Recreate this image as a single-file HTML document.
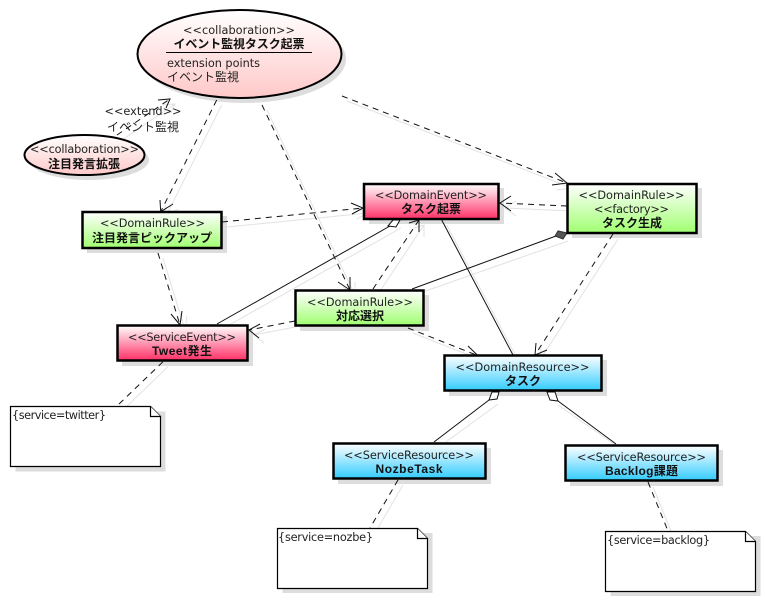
<!DOCTYPE html>
<html><head><meta charset="utf-8"><style>
html,body{margin:0;padding:0;background:#fff}
svg{display:block}
text{font-family:"DejaVu Sans","Noto Sans CJK JP",sans-serif;font-size:11.3px;fill:#222;text-anchor:middle}
.j{font-size:12px}
.b{font-family:"Liberation Sans","Noto Sans CJK JP",sans-serif;font-size:12px;font-weight:bold;fill:#111}
.l{text-anchor:start}
.box{stroke:#000;stroke-width:2.5}
.note{fill:#fff;stroke:#000;stroke-width:1.2}
.sh{fill:#ddd;stroke:none}
.d{stroke-dasharray:6 5}
</style></head><body>
<svg width="765" height="601" viewBox="0 0 765 601" xmlns="http://www.w3.org/2000/svg">
<defs>
<linearGradient id="g" x1="0" y1="0" x2="0" y2="1"><stop offset="0" stop-color="#fff"/><stop offset="1" stop-color="#a0ff70"/></linearGradient>
<linearGradient id="r" x1="0" y1="0" x2="0" y2="1"><stop offset="0" stop-color="#fff"/><stop offset="1" stop-color="#ff2f66"/></linearGradient>
<linearGradient id="c" x1="0" y1="0" x2="0" y2="1"><stop offset="0" stop-color="#fff"/><stop offset="1" stop-color="#33ccff"/></linearGradient>
<linearGradient id="p" x1="0" y1="0" x2="0" y2="1"><stop offset="0" stop-color="#fff"/><stop offset="1" stop-color="#ffc8c8"/></linearGradient>
</defs>

<!-- connector shadows -->
<g fill="none" stroke="#e2e2e2" stroke-width="1" transform="translate(5,5)">
<path d="M216.7 100L160.7 211.7M160 200L160.7 211.7L173 204"/>
<path d="M262 105L350 290M338 282L350 290L350 277"/>
<path d="M342 96L567 183M555 173L567 183L552 185"/>
<path d="M222 222L363 208M351 203L363 208L352 214"/>
<path d="M158 253L180 325M171 314L180 325L182 311"/>
<path d="M567 206L500 203M511 196L500 203L511 211"/>
<path d="M373 289L419 220M409 223L419 220L419 232"/>
<path d="M217 324L396 223"/>
<path d="M412 289L563 236"/>
<path d="M441.7 220L513 355"/>
<path d="M295 321L249 330M260 324L249 330L259 338"/>
<path d="M408 328L478 355.7M468 346L478 355.7L463 355"/>
<path d="M613 234L535 355M536 343L535 355L547 350"/>
<path d="M163 361.700L117 406"/>
<path d="M398 480L370 528"/>
<path d="M648 482L668 531"/>
<path d="M434 442L493 399"/>
<path d="M616 444L553 400"/>
<path d="M117 135L170 99M158 100L170 99L166 108"/>
</g>

<!-- shape shadows -->
<ellipse class="sh" cx="244" cy="59" rx="102" ry="44"/>
<ellipse class="sh" cx="89" cy="160" rx="60" ry="20"/>
<rect class="sh" x="87" y="216" width="140" height="37"/>
<rect class="sh" x="369" y="188" width="135" height="36"/>
<rect class="sh" x="572" y="188" width="130" height="50"/>
<rect class="sh" x="300" y="295" width="129" height="36"/>
<rect class="sh" x="122" y="330" width="131" height="36"/>
<rect class="sh" x="449" y="360" width="158" height="36"/>
<rect class="sh" x="338" y="448" width="153" height="36"/>
<rect class="sh" x="570" y="450" width="153" height="36"/>
<rect class="sh" x="15.500" y="411.500" width="150" height="60"/>
<rect class="sh" x="282.500" y="533" width="150" height="60"/>
<rect class="sh" x="610.500" y="536" width="150" height="60"/>

<!-- connectors -->
<g fill="none" stroke="#111" stroke-width="1">
<path class="d" d="M216.7 100L160.7 211.7"/><path d="M160 200L160.7 211.700L173 204"/>
<path class="d" d="M262 105L350 290"/><path d="M338 282L350 290L350 277"/>
<path class="d" d="M342 96L567 183"/><path d="M555 173L567 183L552 185"/>
<path class="d" d="M222 222L363 208"/><path d="M351 203L363 208L352 214"/>
<path class="d" d="M158 253L180 325"/><path d="M171 314L180 325L182 311"/>
<path class="d" d="M567 206L500 203"/><path d="M511 196L500 203L511 211"/>
<path class="d" d="M373 289L419 220"/><path d="M409 223L419 220L419 232"/>
<path d="M217 324L390 226"/>
<path d="M412 289L556 236"/>
<path d="M441.7 220L513 355"/>
<path class="d" d="M295 321L249 330"/><path d="M260 324L249 330L259 338"/>
<path class="d" d="M408 328L478 355.7"/><path d="M468 346L478 355.7L463 355"/>
<path class="d" d="M613 234L535 355"/><path d="M536 343L535 355L547 350"/>
<path class="d" d="M163 361.700L117 406"/>
<path class="d" d="M398 480L370 528"/>
<path class="d" d="M648 482L668 531"/>
<path d="M434 442L489 400"/>
<path d="M616 444L558 401"/>
<path class="d" d="M117 135L170 99"/><path d="M158 100L170 99L166 108"/>
</g>
<path d="M388 226L393 220L400 220L396 227Z" fill="#fff" stroke="#111"/>
<path d="M555 236L558 231L567 233L563 239Z" fill="#555" stroke="#333"/>
<path d="M489 400L492 392L499 392L497 399Z" fill="#fff" stroke="#111"/>
<path d="M547 392L555 392L558 401L550 400Z" fill="#fff" stroke="#111"/>

<!-- big ellipse -->
<ellipse cx="239.500" cy="54" rx="102" ry="44" fill="url(#p)" stroke="#000" stroke-width="2"/>
<text x="239" y="34" textLength="112">&lt;&lt;collaboration&gt;&gt;</text>
<text class="b" x="239" y="48" textLength="131">イベント監視タスク起票</text>
<line x1="166" y1="52.500" x2="312" y2="52.500" stroke="#000" stroke-width="1"/>
<text class="l" x="167" y="67" textLength="93">extension points</text>
<text class="l j" x="167" y="81">イベント監視</text>

<!-- small ellipse -->
<ellipse cx="84.500" cy="155" rx="60" ry="20" fill="url(#p)" stroke="#000" stroke-width="2"/>
<text x="84.500" y="153" textLength="109">&lt;&lt;collaboration&gt;&gt;</text>
<text class="b" x="84" y="168">注目発言拡張</text>

<!-- extend label -->
<text x="143" y="115" textLength="77">&lt;&lt;extend&gt;&gt;</text>
<text class="j" x="143" y="131">イベント監視</text>

<!-- boxes -->
<rect class="box" x="82.500" y="212" width="139" height="36" fill="url(#g)"/>
<text x="152.500" y="227" textLength="105">&lt;&lt;DomainRule&gt;&gt;</text>
<text class="b" x="152" y="242">注目発言ピックアップ</text>

<rect class="box" x="364" y="184" width="134.500" height="35" fill="url(#r)"/>
<text x="431" y="199" textLength="112">&lt;&lt;DomainEvent&gt;&gt;</text>
<text class="b" x="431" y="213">タスク起票</text>

<rect class="box" x="567.500" y="184" width="129" height="49" fill="url(#g)"/>
<text x="631.500" y="199" textLength="106">&lt;&lt;DomainRule&gt;&gt;</text>
<text x="631.500" y="213" textLength="75">&lt;&lt;factory&gt;&gt;</text>
<text class="b" x="632" y="227">タスク生成</text>

<rect class="box" x="295.500" y="290.500" width="128" height="35" fill="url(#g)"/>
<text x="360" y="306" textLength="106">&lt;&lt;DomainRule&gt;&gt;</text>
<text class="b" x="360" y="320">対応選択</text>

<rect class="box" x="117.500" y="325.500" width="130" height="35" fill="url(#r)"/>
<text x="182" y="341" textLength="108">&lt;&lt;ServiceEvent&gt;&gt;</text>
<text class="b" x="182" y="355" textLength="60">Tweet発生</text>

<rect class="box" x="444.500" y="355.500" width="157" height="35" fill="url(#c)"/>
<text x="522.500" y="371" textLength="134">&lt;&lt;DomainResource&gt;&gt;</text>
<text class="b" x="523" y="385">タスク</text>

<rect class="box" x="333.500" y="443.500" width="152" height="35" fill="url(#c)"/>
<text x="409" y="459" textLength="130">&lt;&lt;ServiceResource&gt;&gt;</text>
<text class="b" x="409" y="473" textLength="67">NozbeTask</text>

<rect class="box" x="565.500" y="445.500" width="152" height="35" fill="url(#c)"/>
<text x="641.500" y="461" textLength="129">&lt;&lt;ServiceResource&gt;&gt;</text>
<text class="b" x="641.500" y="475" textLength="73">Backlog課題</text>

<!-- notes -->
<path class="note" d="M10.500 406.500H150.500L160.500 416.500V466.500H10.500Z"/>
<path class="note" d="M150.500 406.500V416.500H160.500"/>
<text class="l" x="12" y="419" textLength="94">{service=twitter}</text>

<path class="note" d="M277.500 528.500H417.500L427.500 538.500V588.500H277.500Z"/>
<path class="note" d="M417.500 528.500V538.500H427.500"/>
<text class="l" x="278" y="541" textLength="95">{service=nozbe}</text>

<path class="note" d="M605.500 531.500H745.500L755.500 541.500V591.500H605.500Z"/>
<path class="note" d="M745.500 531.500V541.500H755.500"/>
<text class="l" x="607" y="544" textLength="103">{service=backlog}</text>
</svg>
</body></html>
